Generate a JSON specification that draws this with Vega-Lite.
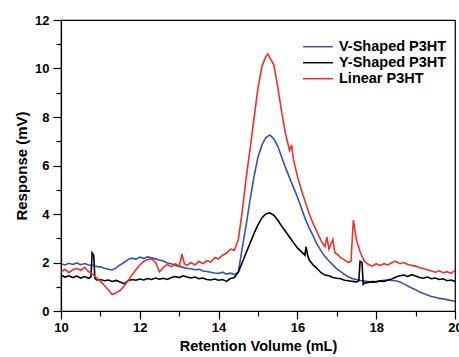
{
  "$schema": "https://vega.github.io/schema/vega-lite/v6.json",
  "width": 394,
  "height": 291,
  "autosize": {"type": "none"},
  "padding": {"left": 61, "top": 20, "right": 4, "bottom": 46},
  "background": "white",
  "config": {
    "view": {"stroke": "black", "strokeWidth": 1.2},
    "font": "Liberation Sans",
    "axis": {"labelFont": "Liberation Sans", "titleFont": "Liberation Sans", "labelFontWeight": "bold", "titleFontWeight": "bold", "labelColor": "black", "titleColor": "black", "domainColor": "black", "tickColor": "black", "grid": false}
  },
  "datasets": {
    "gpc": [
      {"v": 10.0, "r": 1.95, "s": "V-Shaped P3HT"},
      {"v": 10.1, "r": 1.90, "s": "V-Shaped P3HT"},
      {"v": 10.2, "r": 1.97, "s": "V-Shaped P3HT"},
      {"v": 10.3, "r": 1.92, "s": "V-Shaped P3HT"},
      {"v": 10.4, "r": 1.98, "s": "V-Shaped P3HT"},
      {"v": 10.5, "r": 1.91, "s": "V-Shaped P3HT"},
      {"v": 10.6, "r": 1.96, "s": "V-Shaped P3HT"},
      {"v": 10.7, "r": 1.90, "s": "V-Shaped P3HT"},
      {"v": 10.8, "r": 1.88, "s": "V-Shaped P3HT"},
      {"v": 10.9, "r": 1.84, "s": "V-Shaped P3HT"},
      {"v": 11.0, "r": 1.82, "s": "V-Shaped P3HT"},
      {"v": 11.1, "r": 1.76, "s": "V-Shaped P3HT"},
      {"v": 11.2, "r": 1.72, "s": "V-Shaped P3HT"},
      {"v": 11.3, "r": 1.69, "s": "V-Shaped P3HT"},
      {"v": 11.4, "r": 1.78, "s": "V-Shaped P3HT"},
      {"v": 11.5, "r": 1.90, "s": "V-Shaped P3HT"},
      {"v": 11.6, "r": 2.00, "s": "V-Shaped P3HT"},
      {"v": 11.7, "r": 2.12, "s": "V-Shaped P3HT"},
      {"v": 11.8, "r": 2.18, "s": "V-Shaped P3HT"},
      {"v": 11.9, "r": 2.14, "s": "V-Shaped P3HT"},
      {"v": 12.0, "r": 2.22, "s": "V-Shaped P3HT"},
      {"v": 12.1, "r": 2.17, "s": "V-Shaped P3HT"},
      {"v": 12.2, "r": 2.23, "s": "V-Shaped P3HT"},
      {"v": 12.3, "r": 2.19, "s": "V-Shaped P3HT"},
      {"v": 12.4, "r": 2.15, "s": "V-Shaped P3HT"},
      {"v": 12.5, "r": 2.10, "s": "V-Shaped P3HT"},
      {"v": 12.6, "r": 2.06, "s": "V-Shaped P3HT"},
      {"v": 12.7, "r": 1.98, "s": "V-Shaped P3HT"},
      {"v": 12.8, "r": 1.95, "s": "V-Shaped P3HT"},
      {"v": 12.9, "r": 1.88, "s": "V-Shaped P3HT"},
      {"v": 13.0, "r": 1.84, "s": "V-Shaped P3HT"},
      {"v": 13.1, "r": 1.80, "s": "V-Shaped P3HT"},
      {"v": 13.2, "r": 1.76, "s": "V-Shaped P3HT"},
      {"v": 13.3, "r": 1.74, "s": "V-Shaped P3HT"},
      {"v": 13.4, "r": 1.70, "s": "V-Shaped P3HT"},
      {"v": 13.5, "r": 1.72, "s": "V-Shaped P3HT"},
      {"v": 13.6, "r": 1.65, "s": "V-Shaped P3HT"},
      {"v": 13.7, "r": 1.63, "s": "V-Shaped P3HT"},
      {"v": 13.8, "r": 1.60, "s": "V-Shaped P3HT"},
      {"v": 13.9, "r": 1.57, "s": "V-Shaped P3HT"},
      {"v": 14.0, "r": 1.55, "s": "V-Shaped P3HT"},
      {"v": 14.1, "r": 1.60, "s": "V-Shaped P3HT"},
      {"v": 14.2, "r": 1.52, "s": "V-Shaped P3HT"},
      {"v": 14.3, "r": 1.56, "s": "V-Shaped P3HT"},
      {"v": 14.4, "r": 1.50, "s": "V-Shaped P3HT"},
      {"v": 14.5, "r": 1.60, "s": "V-Shaped P3HT"},
      {"v": 14.6, "r": 2.60, "s": "V-Shaped P3HT"},
      {"v": 14.7, "r": 3.55, "s": "V-Shaped P3HT"},
      {"v": 14.8, "r": 4.60, "s": "V-Shaped P3HT"},
      {"v": 14.9, "r": 5.55, "s": "V-Shaped P3HT"},
      {"v": 15.0, "r": 6.35, "s": "V-Shaped P3HT"},
      {"v": 15.1, "r": 6.85, "s": "V-Shaped P3HT"},
      {"v": 15.2, "r": 7.15, "s": "V-Shaped P3HT"},
      {"v": 15.3, "r": 7.26, "s": "V-Shaped P3HT"},
      {"v": 15.4, "r": 7.10, "s": "V-Shaped P3HT"},
      {"v": 15.5, "r": 6.80, "s": "V-Shaped P3HT"},
      {"v": 15.6, "r": 6.35, "s": "V-Shaped P3HT"},
      {"v": 15.7, "r": 5.90, "s": "V-Shaped P3HT"},
      {"v": 15.8, "r": 5.50, "s": "V-Shaped P3HT"},
      {"v": 15.9, "r": 5.10, "s": "V-Shaped P3HT"},
      {"v": 16.0, "r": 4.70, "s": "V-Shaped P3HT"},
      {"v": 16.1, "r": 4.25, "s": "V-Shaped P3HT"},
      {"v": 16.2, "r": 3.80, "s": "V-Shaped P3HT"},
      {"v": 16.3, "r": 3.42, "s": "V-Shaped P3HT"},
      {"v": 16.4, "r": 3.10, "s": "V-Shaped P3HT"},
      {"v": 16.5, "r": 2.75, "s": "V-Shaped P3HT"},
      {"v": 16.6, "r": 2.48, "s": "V-Shaped P3HT"},
      {"v": 16.7, "r": 2.25, "s": "V-Shaped P3HT"},
      {"v": 16.8, "r": 2.06, "s": "V-Shaped P3HT"},
      {"v": 16.9, "r": 1.90, "s": "V-Shaped P3HT"},
      {"v": 17.0, "r": 1.74, "s": "V-Shaped P3HT"},
      {"v": 17.1, "r": 1.62, "s": "V-Shaped P3HT"},
      {"v": 17.2, "r": 1.50, "s": "V-Shaped P3HT"},
      {"v": 17.3, "r": 1.40, "s": "V-Shaped P3HT"},
      {"v": 17.4, "r": 1.33, "s": "V-Shaped P3HT"},
      {"v": 17.5, "r": 1.30, "s": "V-Shaped P3HT"},
      {"v": 17.6, "r": 1.26, "s": "V-Shaped P3HT"},
      {"v": 17.7, "r": 1.24, "s": "V-Shaped P3HT"},
      {"v": 17.8, "r": 1.22, "s": "V-Shaped P3HT"},
      {"v": 17.9, "r": 1.18, "s": "V-Shaped P3HT"},
      {"v": 18.0, "r": 1.22, "s": "V-Shaped P3HT"},
      {"v": 18.1, "r": 1.24, "s": "V-Shaped P3HT"},
      {"v": 18.2, "r": 1.27, "s": "V-Shaped P3HT"},
      {"v": 18.3, "r": 1.28, "s": "V-Shaped P3HT"},
      {"v": 18.4, "r": 1.26, "s": "V-Shaped P3HT"},
      {"v": 18.5, "r": 1.25, "s": "V-Shaped P3HT"},
      {"v": 18.6, "r": 1.20, "s": "V-Shaped P3HT"},
      {"v": 18.7, "r": 1.12, "s": "V-Shaped P3HT"},
      {"v": 18.8, "r": 1.03, "s": "V-Shaped P3HT"},
      {"v": 18.9, "r": 0.95, "s": "V-Shaped P3HT"},
      {"v": 19.0, "r": 0.88, "s": "V-Shaped P3HT"},
      {"v": 19.1, "r": 0.78, "s": "V-Shaped P3HT"},
      {"v": 19.2, "r": 0.72, "s": "V-Shaped P3HT"},
      {"v": 19.3, "r": 0.66, "s": "V-Shaped P3HT"},
      {"v": 19.4, "r": 0.60, "s": "V-Shaped P3HT"},
      {"v": 19.5, "r": 0.57, "s": "V-Shaped P3HT"},
      {"v": 19.6, "r": 0.52, "s": "V-Shaped P3HT"},
      {"v": 19.7, "r": 0.50, "s": "V-Shaped P3HT"},
      {"v": 19.8, "r": 0.47, "s": "V-Shaped P3HT"},
      {"v": 19.9, "r": 0.43, "s": "V-Shaped P3HT"},
      {"v": 20.0, "r": 0.40, "s": "V-Shaped P3HT"},

      {"v": 10.0, "r": 1.48, "s": "Y-Shaped P3HT"},
      {"v": 10.1, "r": 1.40, "s": "Y-Shaped P3HT"},
      {"v": 10.2, "r": 1.45, "s": "Y-Shaped P3HT"},
      {"v": 10.3, "r": 1.38, "s": "Y-Shaped P3HT"},
      {"v": 10.4, "r": 1.44, "s": "Y-Shaped P3HT"},
      {"v": 10.5, "r": 1.36, "s": "Y-Shaped P3HT"},
      {"v": 10.6, "r": 1.42, "s": "Y-Shaped P3HT"},
      {"v": 10.7, "r": 1.35, "s": "Y-Shaped P3HT"},
      {"v": 10.76, "r": 1.40, "s": "Y-Shaped P3HT"},
      {"v": 10.79, "r": 2.40, "s": "Y-Shaped P3HT"},
      {"v": 10.83, "r": 2.30, "s": "Y-Shaped P3HT"},
      {"v": 10.86, "r": 1.35, "s": "Y-Shaped P3HT"},
      {"v": 10.9, "r": 1.28, "s": "Y-Shaped P3HT"},
      {"v": 11.0, "r": 1.30, "s": "Y-Shaped P3HT"},
      {"v": 11.1, "r": 1.25, "s": "Y-Shaped P3HT"},
      {"v": 11.2, "r": 1.28, "s": "Y-Shaped P3HT"},
      {"v": 11.3, "r": 1.22, "s": "Y-Shaped P3HT"},
      {"v": 11.4, "r": 1.26, "s": "Y-Shaped P3HT"},
      {"v": 11.5, "r": 1.20, "s": "Y-Shaped P3HT"},
      {"v": 11.6, "r": 1.12, "s": "Y-Shaped P3HT"},
      {"v": 11.7, "r": 1.25, "s": "Y-Shaped P3HT"},
      {"v": 11.8, "r": 1.30, "s": "Y-Shaped P3HT"},
      {"v": 11.9, "r": 1.27, "s": "Y-Shaped P3HT"},
      {"v": 12.0, "r": 1.32, "s": "Y-Shaped P3HT"},
      {"v": 12.1, "r": 1.28, "s": "Y-Shaped P3HT"},
      {"v": 12.2, "r": 1.34, "s": "Y-Shaped P3HT"},
      {"v": 12.3, "r": 1.30, "s": "Y-Shaped P3HT"},
      {"v": 12.4, "r": 1.36, "s": "Y-Shaped P3HT"},
      {"v": 12.5, "r": 1.31, "s": "Y-Shaped P3HT"},
      {"v": 12.6, "r": 1.35, "s": "Y-Shaped P3HT"},
      {"v": 12.7, "r": 1.30, "s": "Y-Shaped P3HT"},
      {"v": 12.8, "r": 1.38, "s": "Y-Shaped P3HT"},
      {"v": 12.9, "r": 1.42, "s": "Y-Shaped P3HT"},
      {"v": 13.0, "r": 1.38, "s": "Y-Shaped P3HT"},
      {"v": 13.1, "r": 1.45, "s": "Y-Shaped P3HT"},
      {"v": 13.2, "r": 1.40, "s": "Y-Shaped P3HT"},
      {"v": 13.3, "r": 1.36, "s": "Y-Shaped P3HT"},
      {"v": 13.4, "r": 1.40, "s": "Y-Shaped P3HT"},
      {"v": 13.5, "r": 1.33, "s": "Y-Shaped P3HT"},
      {"v": 13.6, "r": 1.36, "s": "Y-Shaped P3HT"},
      {"v": 13.7, "r": 1.30, "s": "Y-Shaped P3HT"},
      {"v": 13.8, "r": 1.28, "s": "Y-Shaped P3HT"},
      {"v": 13.9, "r": 1.32, "s": "Y-Shaped P3HT"},
      {"v": 14.0, "r": 1.27, "s": "Y-Shaped P3HT"},
      {"v": 14.1, "r": 1.30, "s": "Y-Shaped P3HT"},
      {"v": 14.2, "r": 1.22, "s": "Y-Shaped P3HT"},
      {"v": 14.3, "r": 1.34, "s": "Y-Shaped P3HT"},
      {"v": 14.4, "r": 1.38, "s": "Y-Shaped P3HT"},
      {"v": 14.5, "r": 1.60, "s": "Y-Shaped P3HT"},
      {"v": 14.6, "r": 2.00, "s": "Y-Shaped P3HT"},
      {"v": 14.7, "r": 2.40, "s": "Y-Shaped P3HT"},
      {"v": 14.8, "r": 2.80, "s": "Y-Shaped P3HT"},
      {"v": 14.9, "r": 3.20, "s": "Y-Shaped P3HT"},
      {"v": 15.0, "r": 3.55, "s": "Y-Shaped P3HT"},
      {"v": 15.1, "r": 3.85, "s": "Y-Shaped P3HT"},
      {"v": 15.2, "r": 4.00, "s": "Y-Shaped P3HT"},
      {"v": 15.3, "r": 4.05, "s": "Y-Shaped P3HT"},
      {"v": 15.4, "r": 3.95, "s": "Y-Shaped P3HT"},
      {"v": 15.5, "r": 3.75, "s": "Y-Shaped P3HT"},
      {"v": 15.6, "r": 3.50, "s": "Y-Shaped P3HT"},
      {"v": 15.7, "r": 3.28, "s": "Y-Shaped P3HT"},
      {"v": 15.8, "r": 3.05, "s": "Y-Shaped P3HT"},
      {"v": 15.9, "r": 2.82, "s": "Y-Shaped P3HT"},
      {"v": 16.0, "r": 2.60, "s": "Y-Shaped P3HT"},
      {"v": 16.1, "r": 2.45, "s": "Y-Shaped P3HT"},
      {"v": 16.19, "r": 2.30, "s": "Y-Shaped P3HT"},
      {"v": 16.22, "r": 2.65, "s": "Y-Shaped P3HT"},
      {"v": 16.26, "r": 2.30, "s": "Y-Shaped P3HT"},
      {"v": 16.3, "r": 2.10, "s": "Y-Shaped P3HT"},
      {"v": 16.4, "r": 1.90, "s": "Y-Shaped P3HT"},
      {"v": 16.5, "r": 1.75, "s": "Y-Shaped P3HT"},
      {"v": 16.6, "r": 1.58, "s": "Y-Shaped P3HT"},
      {"v": 16.7, "r": 1.48, "s": "Y-Shaped P3HT"},
      {"v": 16.8, "r": 1.45, "s": "Y-Shaped P3HT"},
      {"v": 16.9, "r": 1.38, "s": "Y-Shaped P3HT"},
      {"v": 17.0, "r": 1.35, "s": "Y-Shaped P3HT"},
      {"v": 17.1, "r": 1.33, "s": "Y-Shaped P3HT"},
      {"v": 17.2, "r": 1.27, "s": "Y-Shaped P3HT"},
      {"v": 17.3, "r": 1.25, "s": "Y-Shaped P3HT"},
      {"v": 17.4, "r": 1.22, "s": "Y-Shaped P3HT"},
      {"v": 17.5, "r": 1.20, "s": "Y-Shaped P3HT"},
      {"v": 17.56, "r": 1.25, "s": "Y-Shaped P3HT"},
      {"v": 17.59, "r": 2.05, "s": "Y-Shaped P3HT"},
      {"v": 17.64, "r": 2.00, "s": "Y-Shaped P3HT"},
      {"v": 17.67, "r": 1.10, "s": "Y-Shaped P3HT"},
      {"v": 17.7, "r": 1.15, "s": "Y-Shaped P3HT"},
      {"v": 17.8, "r": 1.18, "s": "Y-Shaped P3HT"},
      {"v": 17.9, "r": 1.21, "s": "Y-Shaped P3HT"},
      {"v": 18.0, "r": 1.20, "s": "Y-Shaped P3HT"},
      {"v": 18.1, "r": 1.24, "s": "Y-Shaped P3HT"},
      {"v": 18.2, "r": 1.22, "s": "Y-Shaped P3HT"},
      {"v": 18.3, "r": 1.28, "s": "Y-Shaped P3HT"},
      {"v": 18.4, "r": 1.32, "s": "Y-Shaped P3HT"},
      {"v": 18.5, "r": 1.40, "s": "Y-Shaped P3HT"},
      {"v": 18.6, "r": 1.45, "s": "Y-Shaped P3HT"},
      {"v": 18.7, "r": 1.48, "s": "Y-Shaped P3HT"},
      {"v": 18.8, "r": 1.42, "s": "Y-Shaped P3HT"},
      {"v": 18.9, "r": 1.50, "s": "Y-Shaped P3HT"},
      {"v": 19.0, "r": 1.44, "s": "Y-Shaped P3HT"},
      {"v": 19.1, "r": 1.38, "s": "Y-Shaped P3HT"},
      {"v": 19.2, "r": 1.35, "s": "Y-Shaped P3HT"},
      {"v": 19.3, "r": 1.40, "s": "Y-Shaped P3HT"},
      {"v": 19.4, "r": 1.33, "s": "Y-Shaped P3HT"},
      {"v": 19.5, "r": 1.36, "s": "Y-Shaped P3HT"},
      {"v": 19.6, "r": 1.30, "s": "Y-Shaped P3HT"},
      {"v": 19.7, "r": 1.33, "s": "Y-Shaped P3HT"},
      {"v": 19.8, "r": 1.25, "s": "Y-Shaped P3HT"},
      {"v": 19.9, "r": 1.28, "s": "Y-Shaped P3HT"},
      {"v": 20.0, "r": 1.22, "s": "Y-Shaped P3HT"},

      {"v": 10.0, "r": 1.60, "s": "Linear P3HT"},
      {"v": 10.1, "r": 1.72, "s": "Linear P3HT"},
      {"v": 10.2, "r": 1.58, "s": "Linear P3HT"},
      {"v": 10.3, "r": 1.70, "s": "Linear P3HT"},
      {"v": 10.4, "r": 1.76, "s": "Linear P3HT"},
      {"v": 10.5, "r": 1.68, "s": "Linear P3HT"},
      {"v": 10.6, "r": 1.80, "s": "Linear P3HT"},
      {"v": 10.7, "r": 1.62, "s": "Linear P3HT"},
      {"v": 10.8, "r": 1.52, "s": "Linear P3HT"},
      {"v": 10.9, "r": 1.38, "s": "Linear P3HT"},
      {"v": 11.0, "r": 1.22, "s": "Linear P3HT"},
      {"v": 11.1, "r": 1.05, "s": "Linear P3HT"},
      {"v": 11.2, "r": 0.88, "s": "Linear P3HT"},
      {"v": 11.3, "r": 0.68, "s": "Linear P3HT"},
      {"v": 11.4, "r": 0.75, "s": "Linear P3HT"},
      {"v": 11.5, "r": 0.85, "s": "Linear P3HT"},
      {"v": 11.6, "r": 1.02, "s": "Linear P3HT"},
      {"v": 11.7, "r": 1.25, "s": "Linear P3HT"},
      {"v": 11.8, "r": 1.48, "s": "Linear P3HT"},
      {"v": 11.9, "r": 1.70, "s": "Linear P3HT"},
      {"v": 12.0, "r": 1.90, "s": "Linear P3HT"},
      {"v": 12.1, "r": 2.05, "s": "Linear P3HT"},
      {"v": 12.2, "r": 2.12, "s": "Linear P3HT"},
      {"v": 12.3, "r": 2.15, "s": "Linear P3HT"},
      {"v": 12.4, "r": 2.00, "s": "Linear P3HT"},
      {"v": 12.5, "r": 1.62, "s": "Linear P3HT"},
      {"v": 12.6, "r": 1.80, "s": "Linear P3HT"},
      {"v": 12.7, "r": 1.92, "s": "Linear P3HT"},
      {"v": 12.8, "r": 1.82, "s": "Linear P3HT"},
      {"v": 12.9, "r": 1.95, "s": "Linear P3HT"},
      {"v": 13.0, "r": 1.85, "s": "Linear P3HT"},
      {"v": 13.07, "r": 2.35, "s": "Linear P3HT"},
      {"v": 13.13, "r": 1.95, "s": "Linear P3HT"},
      {"v": 13.2, "r": 1.88, "s": "Linear P3HT"},
      {"v": 13.3, "r": 2.00, "s": "Linear P3HT"},
      {"v": 13.4, "r": 1.90, "s": "Linear P3HT"},
      {"v": 13.5, "r": 2.05, "s": "Linear P3HT"},
      {"v": 13.6, "r": 1.95, "s": "Linear P3HT"},
      {"v": 13.7, "r": 2.08, "s": "Linear P3HT"},
      {"v": 13.8, "r": 2.02, "s": "Linear P3HT"},
      {"v": 13.9, "r": 2.20, "s": "Linear P3HT"},
      {"v": 14.0, "r": 2.15, "s": "Linear P3HT"},
      {"v": 14.1, "r": 2.30, "s": "Linear P3HT"},
      {"v": 14.2, "r": 2.38, "s": "Linear P3HT"},
      {"v": 14.3, "r": 2.55, "s": "Linear P3HT"},
      {"v": 14.4, "r": 2.50, "s": "Linear P3HT"},
      {"v": 14.5, "r": 2.95, "s": "Linear P3HT"},
      {"v": 14.6, "r": 4.10, "s": "Linear P3HT"},
      {"v": 14.7, "r": 5.50, "s": "Linear P3HT"},
      {"v": 14.8, "r": 6.70, "s": "Linear P3HT"},
      {"v": 14.9, "r": 7.95, "s": "Linear P3HT"},
      {"v": 15.0, "r": 9.20, "s": "Linear P3HT"},
      {"v": 15.1, "r": 10.10, "s": "Linear P3HT"},
      {"v": 15.2, "r": 10.50, "s": "Linear P3HT"},
      {"v": 15.25, "r": 10.60, "s": "Linear P3HT"},
      {"v": 15.3, "r": 10.45, "s": "Linear P3HT"},
      {"v": 15.4, "r": 10.15, "s": "Linear P3HT"},
      {"v": 15.5, "r": 9.25, "s": "Linear P3HT"},
      {"v": 15.6, "r": 8.20, "s": "Linear P3HT"},
      {"v": 15.7, "r": 7.30, "s": "Linear P3HT"},
      {"v": 15.8, "r": 6.62, "s": "Linear P3HT"},
      {"v": 15.85, "r": 6.85, "s": "Linear P3HT"},
      {"v": 15.9, "r": 6.25, "s": "Linear P3HT"},
      {"v": 16.0, "r": 5.55, "s": "Linear P3HT"},
      {"v": 16.1, "r": 5.00, "s": "Linear P3HT"},
      {"v": 16.2, "r": 4.50, "s": "Linear P3HT"},
      {"v": 16.3, "r": 4.00, "s": "Linear P3HT"},
      {"v": 16.4, "r": 3.60, "s": "Linear P3HT"},
      {"v": 16.5, "r": 3.25, "s": "Linear P3HT"},
      {"v": 16.6, "r": 2.90, "s": "Linear P3HT"},
      {"v": 16.7, "r": 2.65, "s": "Linear P3HT"},
      {"v": 16.75, "r": 3.05, "s": "Linear P3HT"},
      {"v": 16.8, "r": 2.55, "s": "Linear P3HT"},
      {"v": 16.9, "r": 2.95, "s": "Linear P3HT"},
      {"v": 16.95, "r": 2.40, "s": "Linear P3HT"},
      {"v": 17.0, "r": 2.35, "s": "Linear P3HT"},
      {"v": 17.1, "r": 2.20, "s": "Linear P3HT"},
      {"v": 17.2, "r": 2.10, "s": "Linear P3HT"},
      {"v": 17.3, "r": 2.00, "s": "Linear P3HT"},
      {"v": 17.36, "r": 2.05, "s": "Linear P3HT"},
      {"v": 17.42, "r": 3.75, "s": "Linear P3HT"},
      {"v": 17.5, "r": 2.90, "s": "Linear P3HT"},
      {"v": 17.6, "r": 2.40, "s": "Linear P3HT"},
      {"v": 17.7, "r": 2.05, "s": "Linear P3HT"},
      {"v": 17.8, "r": 1.92, "s": "Linear P3HT"},
      {"v": 17.9, "r": 1.85, "s": "Linear P3HT"},
      {"v": 18.0, "r": 1.95, "s": "Linear P3HT"},
      {"v": 18.1, "r": 1.88, "s": "Linear P3HT"},
      {"v": 18.2, "r": 1.95, "s": "Linear P3HT"},
      {"v": 18.3, "r": 1.90, "s": "Linear P3HT"},
      {"v": 18.4, "r": 2.00, "s": "Linear P3HT"},
      {"v": 18.5, "r": 2.05, "s": "Linear P3HT"},
      {"v": 18.6, "r": 1.95, "s": "Linear P3HT"},
      {"v": 18.7, "r": 2.00, "s": "Linear P3HT"},
      {"v": 18.8, "r": 1.92, "s": "Linear P3HT"},
      {"v": 18.9, "r": 1.88, "s": "Linear P3HT"},
      {"v": 19.0, "r": 1.85, "s": "Linear P3HT"},
      {"v": 19.1, "r": 1.78, "s": "Linear P3HT"},
      {"v": 19.2, "r": 1.75, "s": "Linear P3HT"},
      {"v": 19.3, "r": 1.70, "s": "Linear P3HT"},
      {"v": 19.4, "r": 1.65, "s": "Linear P3HT"},
      {"v": 19.5, "r": 1.60, "s": "Linear P3HT"},
      {"v": 19.6, "r": 1.66, "s": "Linear P3HT"},
      {"v": 19.7, "r": 1.58, "s": "Linear P3HT"},
      {"v": 19.8, "r": 1.62, "s": "Linear P3HT"},
      {"v": 19.9, "r": 1.55, "s": "Linear P3HT"},
      {"v": 20.0, "r": 1.68, "s": "Linear P3HT"}
    ]
  },
  "data": {"name": "gpc"},
  "resolve": {"axis": {"x": "independent", "y": "independent"}},
  "layer": [
    {
      "mark": {"type": "line", "strokeWidth": 1.6, "clip": true},
      "encoding": {
        "x": {"field": "v", "type": "quantitative", "scale": {"domain": [10, 20], "nice": false},
              "axis": {"orient": "bottom", "title": "Retention Volume (mL)", "values": [10, 12, 14, 16, 18, 20], "tickSize": 8, "tickWidth": 1.2, "domainWidth": 1.2, "labelFontSize": 13, "labelPadding": 2, "titleFontSize": 14.5, "titlePadding": 5, "labelFlush": false, "labelOverlap": false}},
        "y": {"field": "r", "type": "quantitative", "scale": {"domain": [0, 12], "nice": false},
              "axis": {"orient": "left", "title": "Response (mV)", "values": [0, 2, 4, 6, 8, 10, 12], "tickSize": 8, "tickWidth": 1.2, "domainWidth": 1.2, "labelFontSize": 13, "labelPadding": 4, "titleFontSize": 15, "titlePadding": 5}},
        "color": {"field": "s", "type": "nominal",
                  "scale": {"domain": ["V-Shaped P3HT", "Y-Shaped P3HT", "Linear P3HT"], "range": ["#3553ad", "#000000", "#f0302a"]},
                  "legend": {"title": null, "orient": "none", "legendX": 247.5, "legendY": 17.2, "symbolType": "M-1.76,0H1.76", "symbolSize": 289, "symbolStrokeWidth": 1.5, "labelFontSize": 14.5, "labelFontWeight": "bold", "labelFont": "Liberation Sans", "labelColor": "black", "rowPadding": 0, "labelOffset": 11.5, "padding": 0}}
      }
    },
    {
      "mark": {"type": "line", "opacity": 0},
      "encoding": {
        "x": {"field": "v", "type": "quantitative", "axis": {"orient": "bottom", "title": null, "labels": false, "values": [11, 13, 15, 17, 19], "tickSize": 5, "tickWidth": 1.2, "domain": false}},
        "y": {"field": "r", "type": "quantitative", "axis": {"orient": "left", "title": null, "labels": false, "values": [1, 3, 5, 7, 9, 11], "tickSize": 5, "tickWidth": 1.2, "domain": false}}
      }
    }
  ]
}
